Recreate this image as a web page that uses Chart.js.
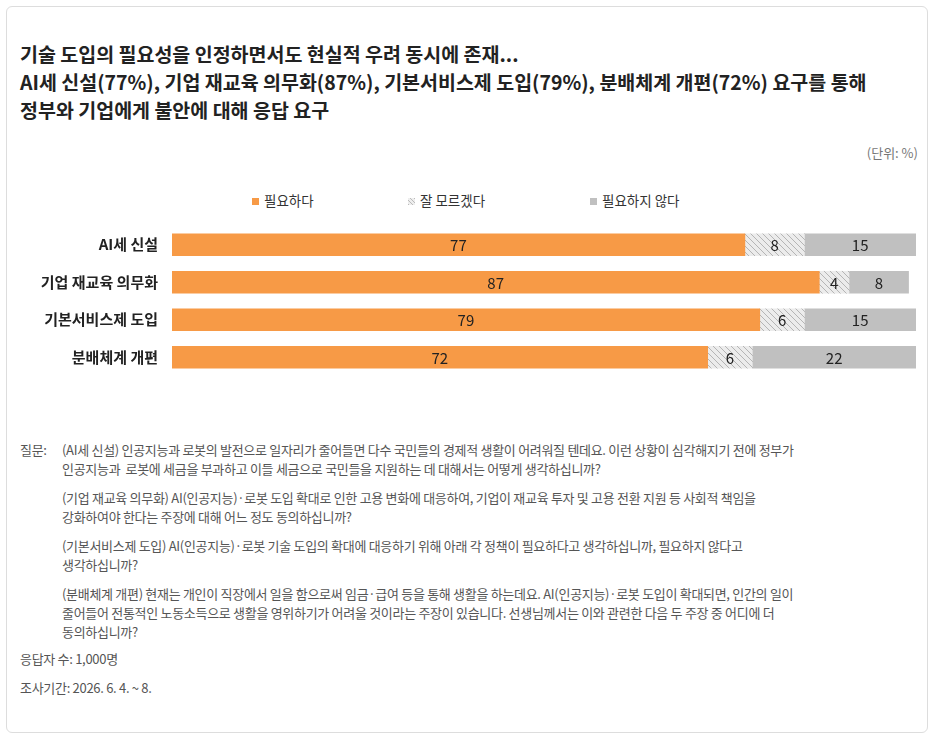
<!DOCTYPE html>
<html><head><meta charset="utf-8">
<script src="https://cdn.jsdelivr.net/npm/chart.js@4"></script>
<style>
body{margin:0;background:#fff;font-family:"Noto Sans CJK KR","Noto Sans",sans-serif;}
#card{position:absolute;left:6px;top:6px;width:922px;height:727px;border:1px solid #ddd;border-radius:6px;box-sizing:border-box;}
#title{position:absolute;left:20px;top:40px;font-size:19.5px;font-weight:bold;color:#222;line-height:28px;letter-spacing:0px;white-space:nowrap;}
#unit{position:absolute;right:18px;top:143px;font-size:13px;color:#777;}
#legend{position:absolute;top:190px;left:0;font-size:13.5px;color:#333;}
#legend span{position:absolute;white-space:nowrap;}
#legend i{display:inline-block;width:7px;height:7px;margin-right:5px;vertical-align:1px;}
#wrap{position:absolute;left:20px;top:211px;width:900px;height:180px;}
#notes{position:absolute;left:20px;top:440px;font-size:13px;color:#555;line-height:19px;letter-spacing:-0.3px;}
#notes .q{position:relative;padding-left:42px;margin-bottom:10px;}
#notes .q b{position:absolute;left:0;font-weight:normal;}
</style></head><body>
<div id="card"></div>
<div id="title">기술 도입의 필요성을 인정하면서도 현실적 우려 동시에 존재...<br>AI세 신설(77%), 기업 재교육 의무화(87%), 기본서비스제 도입(79%), 분배체계 개편(72%) 요구를 통해<br>정부와 기업에게 불안에 대해 응답 요구</div>
<div id="unit">(단위: %)</div>
<div id="legend">
<span style="left:252px"><i style="background:#f79a46"></i>필요하다</span>
<span style="left:408px"><i style="background:repeating-linear-gradient(45deg,#bbb 0 1px,#eee 1px 3px)"></i>잘 모르겠다</span>
<span style="left:590px"><i style="background:#c0c0c0"></i>필요하지 않다</span>
</div>
<div id="wrap"><canvas id="c"></canvas></div>
<div id="notes">
<div class="q"><b>질문:</b>(AI세 신설) 인공지능과 로봇의 발전으로 일자리가 줄어들면 다수 국민들의 경제적 생활이 어려워질 텐데요. 이런 상황이 심각해지기 전에 정부가<br>인공지능과&nbsp; 로봇에 세금을 부과하고 이들 세금으로 국민들을 지원하는 데 대해서는 어떻게 생각하십니까?</div>
<div class="q">(기업 재교육 의무화) AI(인공지능)·로봇 도입 확대로 인한 고용 변화에 대응하여, 기업이 재교육 투자 및 고용 전환 지원 등 사회적 책임을<br>강화하여야 한다는 주장에 대해 어느 정도 동의하십니까?</div>
<div class="q">(기본서비스제 도입) AI(인공지능)·로봇 기술 도입의 확대에 대응하기 위해 아래 각 정책이 필요하다고 생각하십니까, 필요하지 않다고<br>생각하십니까?</div>
<div class="q">(분배체계 개편) 현재는 개인이 직장에서 일을 함으로써 임금·급여 등을 통해 생활을 하는데요. AI(인공지능)·로봇 도입이 확대되면, 인간의 일이<br>줄어들어 전통적인 노동소득으로 생활을 영위하기가 어려울 것이라는 주장이 있습니다. 선생님께서는 이와 관련한 다음 두 주장 중 어디에 더<br>동의하십니까?</div>
<div style="margin-top:-2px">응답자 수: 1,000명</div>
<div style="margin-top:10px">조사기간: 2026. 6. 4. ~ 8.</div>
</div>
<script>
const categories = ["AI세 신설", "기업 재교육 의무화", "기본서비스제 도입", "분배체계 개편"];
const needed = [77, 87, 79, 72];
const unsure = [8, 4, 6, 6];
const notNeeded = [15, 8, 15, 22];

const pc = document.createElement("canvas");
pc.width = 6; pc.height = 6;
const px = pc.getContext("2d");
px.fillStyle = "#ececec"; px.fillRect(0, 0, 6, 6);
px.strokeStyle = "#b5b5b5"; px.lineWidth = 1;
px.beginPath(); px.moveTo(0, 0); px.lineTo(6, 6); px.stroke();
const hatch = document.getElementById("c").getContext("2d").createPattern(pc, "repeat");

const valueLabels = {
  id: "valueLabels",
  afterDatasetsDraw(chart) {
    const ctx = chart.ctx;
    ctx.save();
    ctx.font = "15px 'Noto Sans CJK KR'";
    ctx.fillStyle = "#222";
    ctx.textAlign = "center";
    ctx.textBaseline = "middle";
    chart.data.datasets.forEach((ds, i) => {
      chart.getDatasetMeta(i).data.forEach((bar, j) => {
        ctx.fillText(ds.data[j], (bar.x + bar.base) / 2, bar.y + 1);
      });
    });
    ctx.restore();
  },
};

new Chart(document.getElementById("c"), {
  type: "bar",
  data: {
    labels: categories,
    datasets: [
      { label: "필요하다", data: needed, backgroundColor: "#f79a46" },
      { label: "잘 모르겠다", data: unsure, backgroundColor: hatch },
      { label: "필요하지 않다", data: notNeeded, backgroundColor: "#c0c0c0" },
    ],
  },
  options: {
    indexAxis: "y",
    responsive: true,
    maintainAspectRatio: false,
    animation: false,
    datasets: { bar: { barThickness: 22 } },
    layout: { padding: { right: 4 } },
    plugins: { legend: { display: false }, tooltip: { enabled: false } },
    scales: {
      x: { stacked: true, min: 0, max: 100, display: false },
      y: {
        stacked: true,
        grid: { display: false },
        border: { display: false },
        afterFit(s) { s.width = 152; },
        ticks: { color: "#222", font: { size: 15, weight: "bold", family: "'Noto Sans CJK KR'" }, padding: 6 },
      },
    },
  },
  plugins: [valueLabels],
});
</script>
</body></html>
